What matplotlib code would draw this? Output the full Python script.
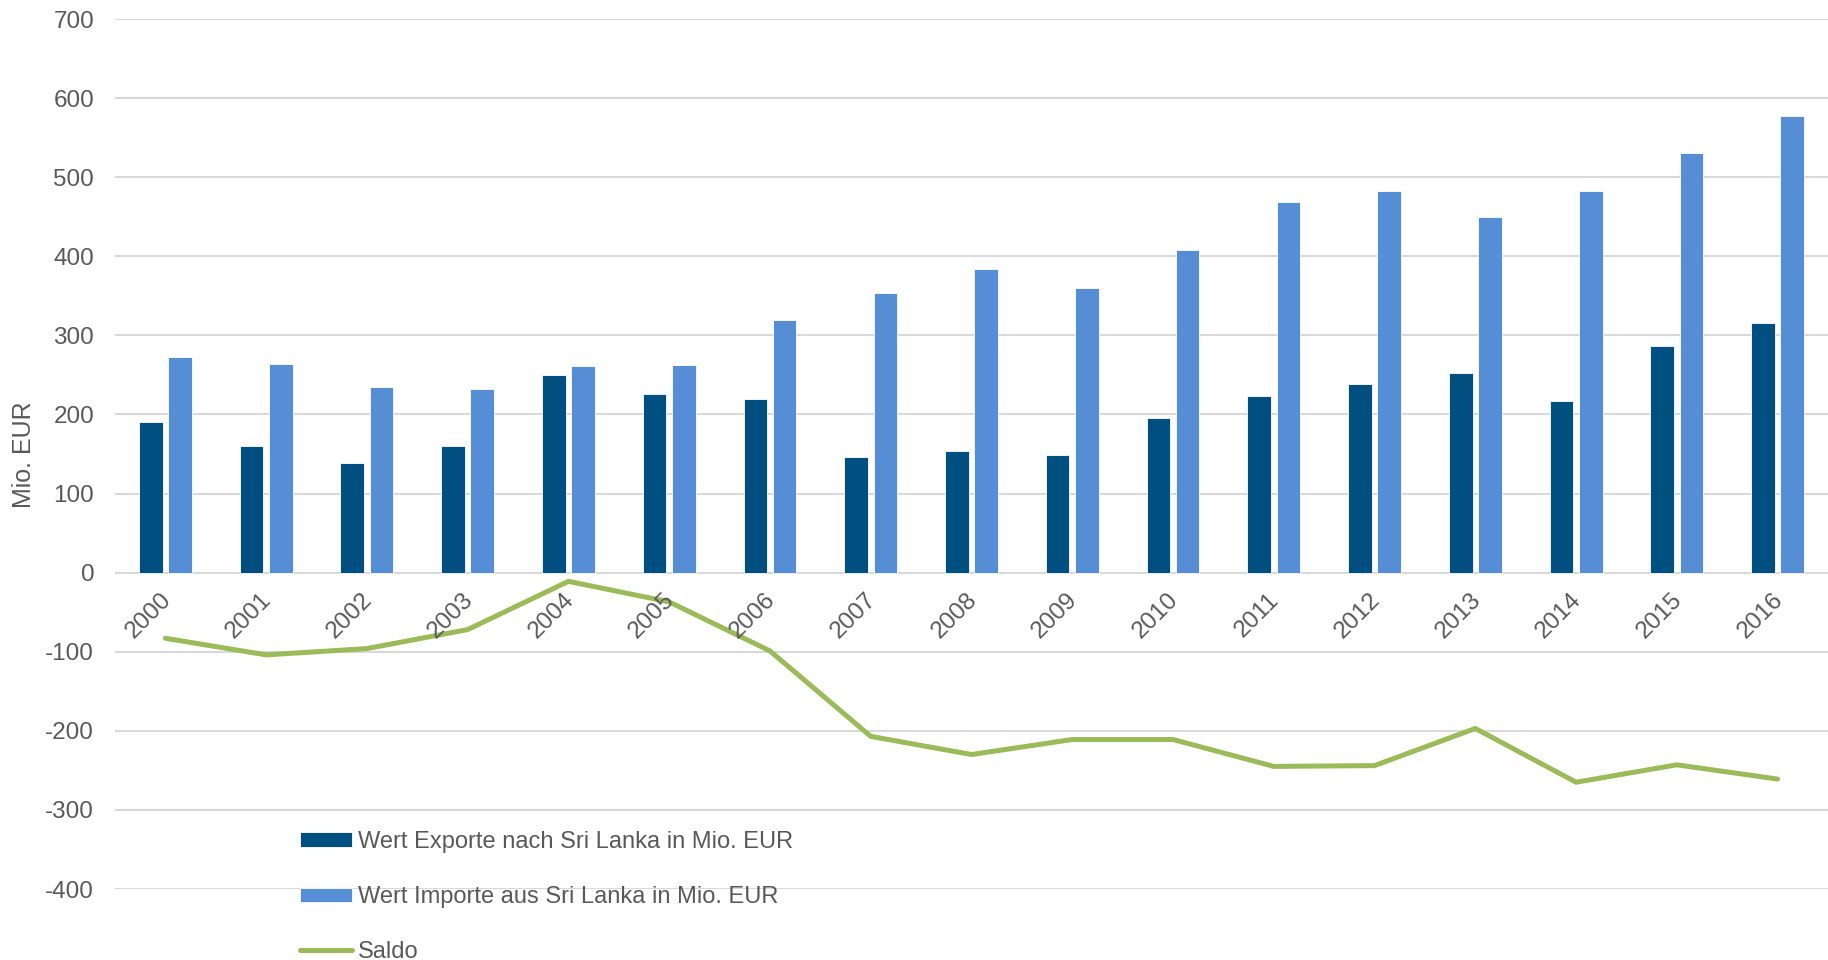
import matplotlib
matplotlib.use("Agg")
import matplotlib.pyplot as plt
import numpy as np

years = ["2000", "2001", "2002", "2003", "2004", "2005", "2006", "2007", "2008",
         "2009", "2010", "2011", "2012", "2013", "2014", "2015", "2016"]
exporte = [190, 160, 139, 160, 250, 226, 220, 146, 154, 149, 196, 223, 239, 253, 217, 286, 316]
importe = [273, 264, 235, 232, 261, 263, 319, 353, 384, 360, 408, 468, 483, 450, 483, 530, 577]
saldo = [-83, -104, -96, -72, -11, -37, -99, -207, -230, -211, -211, -245, -244, -197, -265, -243, -261]

label_exp = "Wert Exporte nach Sri Lanka in Mio. EUR"
label_imp = "Wert Importe aus Sri Lanka in Mio. EUR"
label_saldo = "Saldo"
y_label = "Mio. EUR"

plt.rcParams['font.family'] = ['Liberation Sans', 'DejaVu Sans']
plt.rcParams['axes.unicode_minus'] = False
text_color = "#595959"
c_exp = "#004F81"
c_imp = "#558ED5"
c_saldo = "#9BBB59"
fs = 17

W, H = 1828, 960
fig = plt.figure(figsize=(W / 100, H / 100), dpi=100)
ax = fig.add_axes([115 / W, 1 - 889 / H, 1 - 115 / W, (889 - 19) / H])

x = np.arange(len(years))
bw = 0.235
off = 0.145
b1 = ax.bar(x - off, exporte, width=bw, color=c_exp, edgecolor="white", linewidth=0.6,
            label=label_exp, zorder=2)
b2 = ax.bar(x + off, importe, width=bw, color=c_imp, edgecolor="white", linewidth=0.6,
            label=label_imp, zorder=2)
l1, = ax.plot(x, saldo, color=c_saldo, linewidth=3.6, label=label_saldo, zorder=3,
              solid_capstyle="round", solid_joinstyle="round")

ax.set_xlim(-0.5, len(years) - 0.5)
ax.set_ylim(-400, 700)
ax.set_yticks(np.arange(-400, 701, 100))
ax.yaxis.grid(True, color="#D9D9D9", linewidth=1.5, zorder=0)
ax.set_axisbelow(True)
for s in ax.spines.values():
    s.set_visible(False)
ax.set_xticks([])
ax.tick_params(axis="y", length=0, pad=15, labelsize=fs + 0.5, labelcolor=text_color)

for i, yr in enumerate(years):
    ax.text(i - 0.17, -54, yr, rotation=45, ha="center", va="center",
            fontsize=fs + 0.5, color=text_color)

fig.text(24 / W, 1 - 455 / H, y_label, rotation=90, ha="center", va="center",
         fontsize=18, color=text_color)

leg = fig.legend([b1, b2, l1], [label_exp, label_imp, label_saldo],
                 loc="upper left", bbox_to_anchor=(300 / W, 1 - 831 / H),
                 frameon=False, fontsize=fs, handlelength=2.2, handleheight=0.56,
                 handletextpad=0.25, labelspacing=1.4, borderpad=0, borderaxespad=0)
for t in leg.get_texts():
    t.set_color(text_color)

fig.savefig("out.png", dpi=100)
